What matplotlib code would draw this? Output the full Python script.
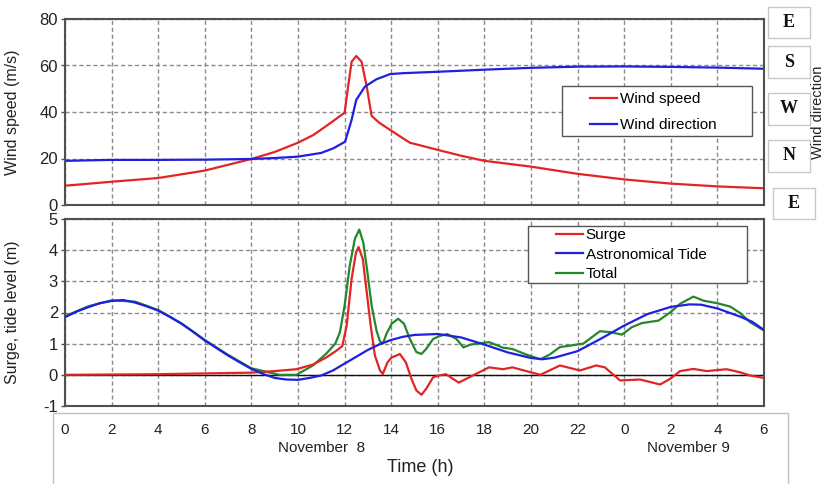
import numpy as np
import matplotlib.pyplot as plt
import matplotlib.transforms as mtransforms
from matplotlib.patches import Rectangle

plt.rcParams['font.family'] = ['Liberation Sans', 'DejaVu Sans']
plt.rcParams['axes.unicode_minus'] = False

# time axis: hours from 0:00 Nov 8 to 6:00 Nov 9
hour_ticks = list(range(0, 31, 2))
hour_labels = ['0', '2', '4', '6', '8', '10', '12', '14', '16', '18', '20', '22', '0', '2', '4', '6']

# wind speed (m/s)
ws_t = [0, 2, 4, 6, 8, 9, 10, 10.66, 11.37, 12, 12.15, 12.3, 12.5, 12.73, 12.95, 13.16,
        13.5, 13.95, 14.8, 16, 17, 18, 20, 22, 24, 26, 28, 30]
ws = [8.3, 10, 11.6, 14.8, 19.8, 22.8, 26.8, 30.1, 35.1, 39.7, 50.9, 61.6, 64.1, 61.6, 50.9,
      38.3, 35.3, 32.3, 26.8, 23.7, 21.2, 19, 16.5, 13.4, 11, 9.2, 8, 7.2]

# wind direction, on the same 0-80 scale (E=0, N=20, W=40, S=60, E=80)
wd_t = [0, 2, 4, 6, 8, 9, 10, 11, 11.52, 12.02, 12.3, 12.5, 12.87, 13.37, 13.95, 14.5,
        15, 16, 18, 20, 22, 24, 26, 28, 30]
wd = [19.0, 19.4, 19.4, 19.5, 19.8, 20.2, 20.8, 22.4, 24.4, 27.2, 36.6, 45.2, 50.9, 54.1,
      56.3, 56.7, 56.9, 57.3, 58.2, 59, 59.5, 59.6, 59.4, 59.1, 58.6]
dir_ticks = [80, 60, 40, 20, 0]
dir_labels = ['E', 'S', 'W', 'N', 'E']

# astronomical tide (m)
tide_t = [0, 0.5, 1, 1.5, 2, 2.5, 3, 3.5, 4, 4.5, 5, 5.5, 6, 6.5, 7, 7.5, 8, 8.5, 9, 9.5,
          10, 10.5, 11, 11.5, 12, 12.5, 13, 13.5, 14, 14.5, 15, 16, 17, 18, 19, 20, 20.5,
          21, 22, 23, 24, 25, 26, 26.8, 27.3, 28, 29, 29.5, 30]
tide = [1.85, 2.03, 2.17, 2.3, 2.37, 2.4, 2.32, 2.2, 2.06, 1.86, 1.64, 1.38, 1.1, 0.86, 0.62,
        0.4, 0.19, 0.03, -0.1, -0.15, -0.16, -0.1, -0.02, 0.14, 0.36, 0.58, 0.8, 0.98, 1.12,
        1.22, 1.28, 1.31, 1.2, 0.97, 0.72, 0.54, 0.5, 0.55, 0.76, 1.16, 1.58, 1.95, 2.18,
        2.26, 2.25, 2.13, 1.86, 1.7, 1.44]

# surge (m)
surge_t = [0, 4, 8, 9, 9.93, 10.64, 11.2, 11.6, 11.9, 12.09, 12.3, 12.49, 12.6, 12.78, 12.95,
           13.12, 13.3, 13.52, 13.64, 13.84, 14.02, 14.23, 14.37, 14.63, 14.87, 15.08, 15.3,
           15.5, 15.8, 16.06, 16.35, 16.9, 17.4, 18.2, 18.8, 19.2, 20.4, 21.24, 22.1, 22.8,
           23.17, 23.82, 24.68, 25.54, 25.97, 26.4, 26.97, 27.54, 28.4, 28.98, 29.4, 30]
surge = [0.0, 0.02, 0.07, 0.12, 0.18, 0.33, 0.55, 0.75, 0.92, 1.58, 3.08, 3.93, 4.1, 3.72, 2.65,
         1.58, 0.62, 0.14, 0.03, 0.4, 0.56, 0.62, 0.67, 0.4, -0.13, -0.5, -0.64, -0.45, -0.08,
         -0.02, 0.02, -0.25, -0.06, 0.24, 0.18, 0.24, 0.0, 0.3, 0.14, 0.3, 0.24, -0.18, -0.15,
         -0.31, -0.13, 0.12, 0.19, 0.12, 0.18, 0.08, -0.02, -0.1]

# total water level (m)
total_t = [0, 1, 2, 3, 4, 5, 6, 7, 8, 9.21, 9.93, 10.64, 11.2, 11.6, 11.8, 12.0, 12.22, 12.44,
           12.63, 12.8, 12.98, 13.16, 13.37, 13.52, 13.64, 13.8, 14.02, 14.3, 14.55, 14.8,
           15.08, 15.3, 15.5, 15.8, 16.06, 16.4, 16.8, 17.1, 17.4, 18.2, 18.8, 19.2, 19.8,
           20.4, 20.8, 21.24, 22.24, 22.6, 22.96, 23.4, 23.9, 24.33, 24.76, 25.47, 25.97,
           26.4, 26.97, 27.4, 27.98, 28.55, 28.98, 29.4, 30]
total = [1.88, 2.2, 2.39, 2.35, 2.08, 1.65, 1.12, 0.64, 0.21, 0.0, 0.0, 0.3, 0.67, 1.0, 1.37,
         2.22, 3.5, 4.36, 4.66, 4.25, 3.29, 2.22, 1.42, 1.07, 1.0, 1.32, 1.64, 1.8, 1.64, 1.15,
         0.73, 0.67, 0.83, 1.15, 1.24, 1.31, 1.15, 0.88, 0.97, 1.05, 0.87, 0.83, 0.65, 0.5,
         0.65, 0.89, 1.0, 1.2, 1.4, 1.37, 1.29, 1.53, 1.66, 1.74, 2.0, 2.28, 2.51, 2.38, 2.3,
         2.19, 1.98, 1.69, 1.42]

red = '#e32424'
blue = '#1f1fe0'
green = '#23882a'
spine_col = '#505050'
grid_kw = dict(color='#8a8a8a', linestyle=(0, (3, 2)), linewidth=1)

W, H = 824, 484
fig = plt.figure(figsize=(W / 100, H / 100), dpi=100)
ax1 = fig.add_axes([65 / W, 1 - 205 / H, 699 / W, 186 / H])
ax2 = fig.add_axes([65 / W, 1 - 406 / H, 699 / W, 187 / H])

for ax in (ax1, ax2):
    ax.set_xlim(0, 30)
    ax.set_xticks(hour_ticks)
    ax.grid(True, **grid_kw)
    ax.set_axisbelow(True)
    for s in ax.spines.values():
        s.set_color(spine_col)
        s.set_linewidth(1.5)
    ax.tick_params(axis='y', length=3, width=1, color=spine_col, labelsize=12,
                   labelcolor='#222222', pad=2)

# top panel
ax1.plot(ws_t, ws, color=red, lw=1.6, label='Wind speed')
ax1.plot(wd_t, wd, color=blue, lw=1.6, label='Wind direction')
ax1.set_ylim(0, 80)
ax1.set_yticks([0, 20, 40, 60, 80])
ax1.tick_params(axis='x', length=0, labelbottom=False)
ax1.set_ylabel('Wind speed (m/s)', fontsize=11.5, color='#222222')
ax1.yaxis.set_label_coords(-0.065, 0.5)

ax1.add_patch(Rectangle((0.711, 0.371), 0.272, 0.269, transform=ax1.transAxes,
                        fc='white', ec='#555555', lw=1, zorder=4))
ax1.legend(loc='upper left', bbox_to_anchor=(0.751, 0.605), frameon=False, fontsize=11,
           handlelength=1.8, handletextpad=0.15, labelspacing=0.75, borderpad=0,
           borderaxespad=0).set_zorder(5)

# wind direction boxes on the right
box_centers = [78.5, 61.5, 41.3, 21.1, 0.6]
box_x = [768, 768, 768, 768, 773]
blend = mtransforms.blended_transform_factory(fig.transFigure, ax1.transData)
for lab, yc, bx in zip(dir_labels, box_centers, box_x):
    ax1.add_patch(Rectangle((bx / W, yc - 6.7), 42 / W, 13.4, transform=blend,
                            fc='white', ec='#c8c8c8', lw=1, clip_on=False))
    ax1.text((bx + 21) / W, yc, lab, transform=blend, ha='center', va='center',
             family='Liberation Serif', fontweight='bold', fontsize=13, color='#111111')
fig.text(810.5 / W, 1 - 112 / H, 'Wind direction', rotation=90, ha='left', va='center',
         fontsize=10.5, color='#222222')

# bottom panel
ax2.axhline(0, color='#111111', lw=1, zorder=1.5)
ax2.plot(surge_t, surge, color=red, lw=1.6, label='Surge', zorder=3)
ax2.plot(tide_t, tide, color=blue, lw=1.6, label='Astronomical Tide', zorder=3)
ax2.plot(total_t, total, color=green, lw=1.6, label='Total', zorder=2.5)
ax2.set_ylim(-1, 5)
ax2.set_yticks(range(-1, 6))
ax2.set_xticklabels(hour_labels)
ax2.tick_params(axis='x', length=0, pad=12.5, labelsize=11, labelcolor='#222222')
ax2.set_ylabel('Surge, tide level (m)', fontsize=11.5, color='#222222')
ax2.yaxis.set_label_coords(-0.065, 0.5)

ax2.add_patch(Rectangle((0.6624, 0.659), 0.3126, 0.3036, transform=ax2.transAxes,
                        fc='white', ec='#555555', lw=1, zorder=4))
ax2.legend(loc='upper left', bbox_to_anchor=(0.7024, 0.95), frameon=False, fontsize=11,
           handlelength=1.8, handletextpad=0.15, labelspacing=0.35, borderpad=0,
           borderaxespad=0).set_zorder(5)

# box holding the time labels
fig.patches.append(Rectangle((53 / W, -0.01), 735 / W, 1 - 413 / H + 0.01,
                             transform=fig.transFigure, fc='none', ec='#c0c0c0', lw=1))
fig.text(322 / W, 1 - 448 / H, 'November  8', ha='center', va='center', fontsize=11,
         color='#222222')
fig.text(688 / W, 1 - 448 / H, 'November 9', ha='center', va='center', fontsize=11,
         color='#222222')
fig.text(420 / W, 1 - 467 / H, 'Time (h)', ha='center', va='center', fontsize=13,
         color='#222222')

fig.savefig('out.png', dpi=100)
